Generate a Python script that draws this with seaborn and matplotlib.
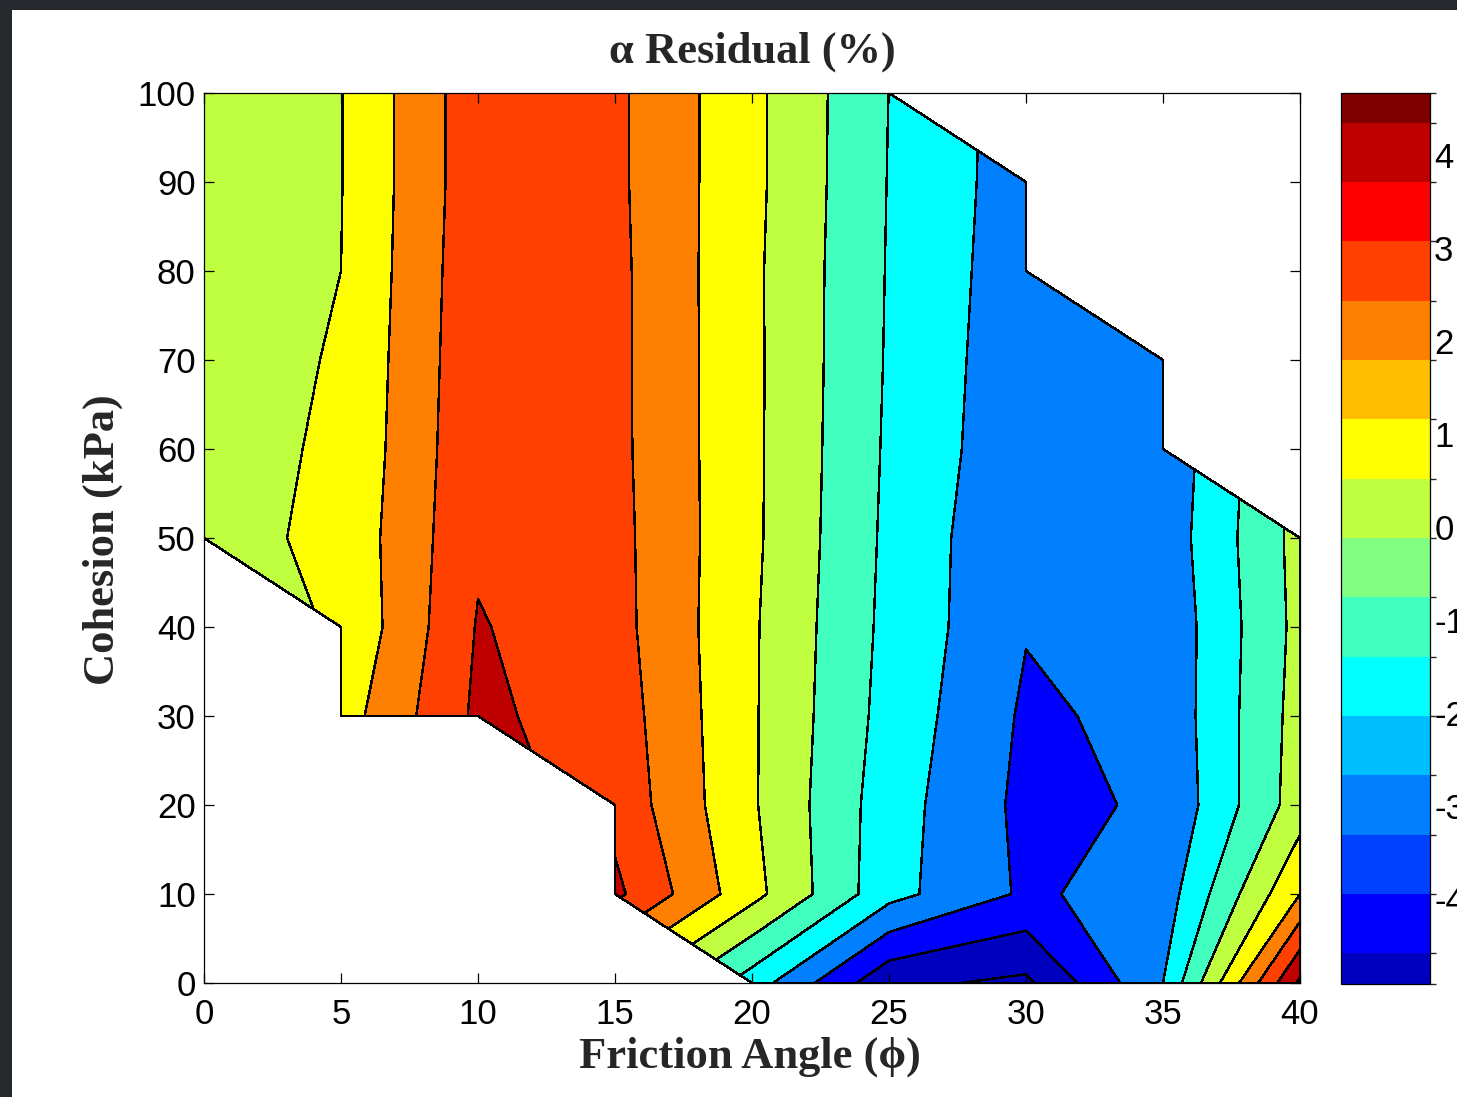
import numpy as np
import matplotlib
matplotlib.use("Agg")
import matplotlib.pyplot as plt
from matplotlib.colors import ListedColormap, BoundaryNorm
from matplotlib.cm import ScalarMappable
from matplotlib.patches import Rectangle
import seaborn as sns

nan = np.nan

# grid of the parametric study
friction_angle = [0, 5, 10, 15, 20, 25, 30, 35, 40]
cohesion = [0, 10, 20, 30, 40, 50, 60, 70, 80, 90, 100]

# alpha residual (%) for each cohesion row, left to right in friction angle (nan = no result)
res_c0 = [nan, nan, nan, nan, -1.5, -4.78, -5.2, -2.0, 5.2]
res_c10 = [nan, nan, nan, 4.23, 1.33, -1.67, -3.16, -2.54, 2.0]
res_c20 = [nan, nan, nan, 3.68, 1.12, -1.55, -3.26, -2.87, 0.5]
res_c30 = [nan, 1.54, 4.2, 3.51, 1.12, -1.37, -3.15, -2.75, 0.4]
res_c40 = [nan, 1.1, 4.07, 3.35, 1.13, -1.27, -2.95, -2.75, 0.3]
res_c50 = [0.60, 1.26, 3.85, 3.31, 1.2, -1.21, -2.95, -2.6, 0.35]
res_c60 = [0.64, 1.14, 3.79, 3.26, 1.21, -1.15, -2.75, -2.7, nan]
res_c70 = [0.56, 1.08, 3.74, 3.25, 1.21, -1.1, -2.69, -2.7, nan]
res_c80 = [0.55, 1.0, 3.70, 3.25, 1.2, -1.07, -2.61, nan, nan]
res_c90 = [0.55, 0.97, 3.63, 3.2, 1.25, -1.04, -2.54, nan, nan]
res_c100 = [0.55, 0.97, 3.63, 3.2, 1.25, -1.01, nan, nan, nan]

contour_levels = [-6, -5, -4, -3, -2, -1, 0, 1, 2, 3, 4, 5, 6]
color_limits = (-5.22, 4.99)      # colour scaling of the map
cbar_limits = (-4.91, 4.67)       # range shown on the colour bar
cbar_ticks = [-4, -3, -2, -1, 0, 1, 2, 3, 4]

# MATLAB jet(16)
jet16 = [(0, 0, .75), (0, 0, 1), (0, .25, 1), (0, .5, 1), (0, .75, 1), (0, 1, 1),
         (.25, 1, .75), (.5, 1, .5), (.75, 1, .25), (1, 1, 0), (1, .75, 0),
         (1, .5, 0), (1, .25, 0), (1, 0, 0), (.75, 0, 0), (.5, 0, 0)]

Z = np.array([res_c0, res_c10, res_c20, res_c30, res_c40, res_c50,
              res_c60, res_c70, res_c80, res_c90, res_c100])
Z = np.ma.masked_invalid(Z)

# each filled band takes the colour of its lower level
cmin, cmax = color_limits
fill_colors = []
for lo in contour_levels[:-1]:
    idx = int(np.clip(np.floor((lo - cmin) / (cmax - cmin) * 16), 0, 15))
    fill_colors.append(jet16[idx])

sns.set_theme(style="ticks")
plt.rcParams['font.family'] = ['Liberation Sans', 'DejaVu Sans']
plt.rcParams['axes.unicode_minus'] = False

W, H = 1457, 1097
fig = plt.figure(figsize=(W / 100, H / 100), dpi=100, facecolor='white')
ax = fig.add_axes([204 / W, 114 / H, 1096 / W, 890 / H])
cax = fig.add_axes([1341 / W, 113 / H, 89 / W, 891 / H])

cs = ax.contourf(friction_angle, cohesion, Z, levels=contour_levels,
                 colors=fill_colors, corner_mask=True)
cs.set_edgecolor('black')
cs.set_linewidth(1.0)

ax.set_facecolor('white')
ax.set_axisbelow(False)
ax.set_xlim(0, 40)
ax.set_ylim(0, 100)
ax.set_xticks(friction_angle)
ax.set_yticks(cohesion)
ax.tick_params(direction='in', top=True, right=True, length=7, width=0.9,
               labelsize=25, colors='black')
ax.tick_params(axis='x', pad=11)
ax.tick_params(axis='y', pad=6)
for s in ax.spines.values():
    s.set_linewidth(0.9)
    s.set_color('black')

# colour bar
step = (cmax - cmin) / 16
bounds = [cbar_limits[0]] + [cmin + k * step for k in range(1, 16)] + [cbar_limits[1]]
sm = ScalarMappable(norm=BoundaryNorm(bounds, 16), cmap=ListedColormap(jet16))
cb = fig.colorbar(sm, cax=cax, ticks=cbar_ticks, spacing='proportional')
cb.outline.set_linewidth(0.9)
cb.outline.set_edgecolor('black')
cax.tick_params(direction='in', left=True, right=True, length=7, width=0.9,
                labelsize=25, pad=3, colors='black')

serif = ['Liberation Serif', 'DejaVu Serif']
fig.text(752 / W, 1 - 52 / H, 'α Residual (%)', ha='center', va='center',
         family=serif, fontweight='bold', fontsize=32)
fig.text(750 / W, 1 - 1057 / H, 'Friction Angle (ϕ)', ha='center', va='center',
         family=serif, fontweight='bold', fontsize=32)
fig.text(103 / W, 1 - 540 / H, 'Cohesion (kPa)', ha='center', va='center',
         rotation=90, family=serif, fontweight='bold', fontsize=32)

# dark frame of the screenshot
fig.add_artist(Rectangle((0, 0), 12 / W, 1, transform=fig.transFigure,
                         facecolor='#25282c', edgecolor='none'))
fig.add_artist(Rectangle((0, 1 - 10 / H), 1, 10 / H, transform=fig.transFigure,
                         facecolor='#25282c', edgecolor='none'))

fig.savefig('out.png', dpi=100, facecolor='white')
